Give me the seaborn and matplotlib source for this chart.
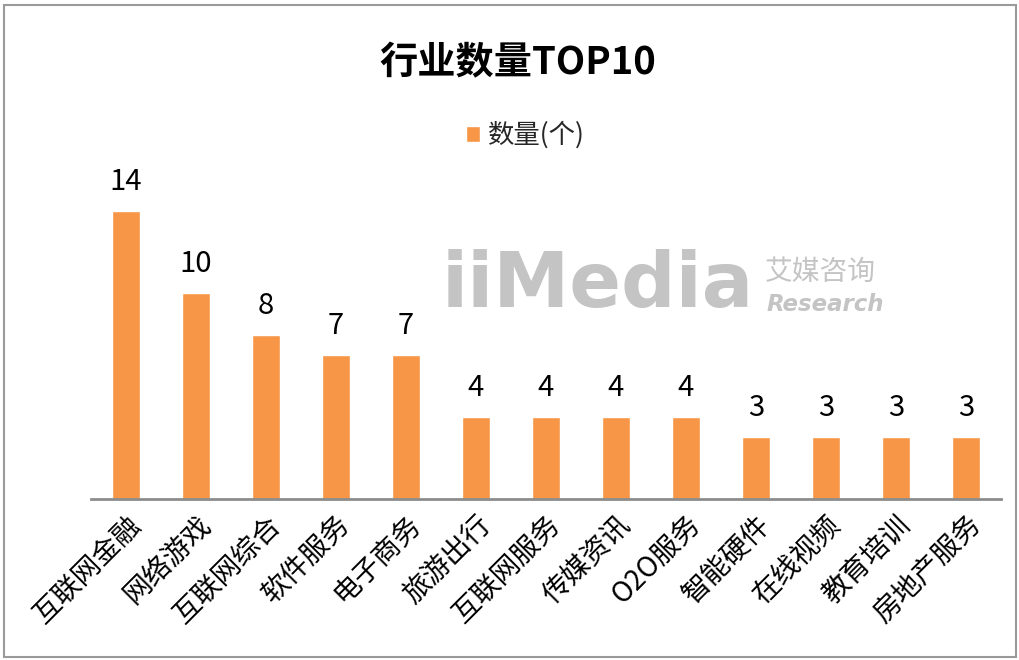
import pandas as pd
import matplotlib.pyplot as plt
import seaborn as sns
import matplotlib
from matplotlib.patches import Rectangle

# data
industries = ['互联网金融', '网络游戏', '互联网综合', '软件服务', '电子商务', '旅游出行',
              '互联网服务', '传媒资讯', 'O2O服务', '智能硬件', '在线视频', '教育培训', '房地产服务']
counts = [14, 10, 8, 7, 7, 4, 4, 4, 4, 3, 3, 3, 3]
series_name = '数量(个)'
title = '行业数量TOP10'

df = pd.DataFrame({'industry': industries, 'count': counts})

sns.set_theme(style='white')
plt.rcParams['font.family'] = ['Noto Sans CJK SC', 'DejaVu Sans']

fig = plt.figure(figsize=(10.2, 6.6), dpi=100)
ax = fig.add_axes([91 / 1020, 161 / 660, 910 / 1020, 329 / 660])

orange = '#F79646'
sns.barplot(data=df, x='industry', y='count', color=orange, width=0.41,
            saturation=1, label=series_name, ax=ax)

ax.set_ylim(0, 16)
ax.set_xlim(-0.5, len(industries) - 0.5)
ax.set_yticks([])
ax.set_xlabel('')
ax.set_ylabel('')
for s in ['top', 'right', 'left']:
    ax.spines[s].set_visible(False)
ax.spines['bottom'].set_color('#8c8c8c')
ax.spines['bottom'].set_linewidth(2)
ax.tick_params(axis='x', length=0, pad=8)
plt.setp(ax.get_xticklabels(), rotation=45, ha='right', rotation_mode='anchor',
         fontsize=20, color='black')

# value labels above bars
for i, v in enumerate(counts):
    ax.annotate(str(v), (i, v), xytext=(0, 10), textcoords='offset points',
                ha='center', va='bottom', fontsize=21, color='black', clip_on=False)

fig.text(0.508, 0.905, title, ha='center', va='center', fontsize=27.5,
         fontweight='bold', color='black')

leg = ax.legend(loc='center', bbox_to_anchor=(0.515, 0.795), bbox_transform=fig.transFigure,
                frameon=False, fontsize=19, handlelength=0.55, handleheight=0.55,
                handletextpad=0.3)

# watermark
fig.text(0.433, 0.566, 'iiMedia', ha='left', va='center', fontsize=55,
         fontweight='bold', color='#c4c4c4', family='DejaVu Sans')
fig.text(0.750, 0.566, '艾媒咨询', ha='left', va='bottom', fontsize=20,
         color='#c4c4c4', style='italic')
fig.text(0.751, 0.556, 'Research', ha='left', va='top', fontsize=16.5,
         color='#c4c4c4', style='italic', fontweight='bold', family='DejaVu Sans')

# outer frame
fig.patches.append(Rectangle((0.004, 0.005), 0.992, 0.988, transform=fig.transFigure,
                             fill=False, edgecolor='#9a9a9a', linewidth=1.5))

plt.savefig('out.png', dpi=100)
